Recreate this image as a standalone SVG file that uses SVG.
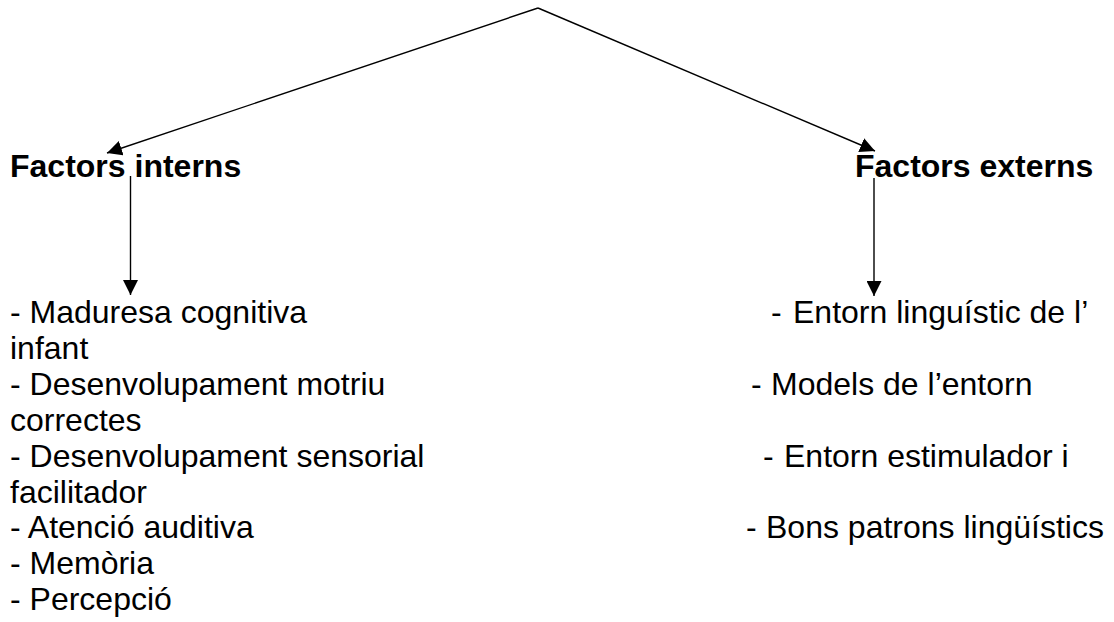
<svg xmlns="http://www.w3.org/2000/svg" width="1114" height="622" viewBox="0 0 1114 622">
<defs>
<marker id="ah" markerWidth="15" markerHeight="15" refX="15" refY="7.5" orient="auto" markerUnits="userSpaceOnUse">
<path d="M0,0 L15,7.5 L0,15 Z" fill="#000"/>
</marker>
<style>
.t{font-family:"Liberation Sans",Arial,sans-serif;font-size:32px;fill:#000}
.b{font-weight:bold}
.c{stroke:#000;stroke-width:1.4;fill:none;marker-end:url(#ah)}
</style>
</defs>
<rect width="1114" height="622" fill="#fff"/>
<g id="connectors">
<line class="c" x1="538" y1="8" x2="107" y2="153"/>
<line class="c" x1="538" y1="8" x2="875" y2="151"/>
<line class="c" x1="130.5" y1="176" x2="130.5" y2="295"/>
<line class="c" x1="874" y1="178" x2="874" y2="296"/>
</g>
<g id="factors-interns"><text class="t b" x="10" y="177">Factors interns</text></g>
<g id="factors-externs"><text class="t b" x="855" y="177">Factors externs</text></g>
<g id="interns-list">
<text class="t" x="10" y="323">- Maduresa cognitiva</text>
<text class="t" x="10" y="359">infant</text>
<text class="t" x="10" y="395">- Desenvolupament motriu</text>
<text class="t" x="10" y="431">correctes</text>
<text class="t" x="10" y="467">- Desenvolupament sensorial</text>
<text class="t" x="10" y="503">facilitador</text>
<text class="t" x="10" y="538">- Atenció auditiva</text>
<text class="t" x="10" y="574">- Memòria</text>
<text class="t" x="10" y="610">- Percepció</text>
</g>
<g id="externs-list">
<text class="t" y="323"><tspan x="771">-</tspan><tspan x="793">Entorn linguístic de l’</tspan></text>
<text class="t" y="395"><tspan x="751">-</tspan><tspan x="771">Models de l’entorn</tspan></text>
<text class="t" y="467"><tspan x="763">-</tspan><tspan x="784">Entorn estimulador i</tspan></text>
<text class="t" y="538"><tspan x="746">-</tspan><tspan x="766">Bons patrons lingüístics</tspan></text>
</g>
</svg>
